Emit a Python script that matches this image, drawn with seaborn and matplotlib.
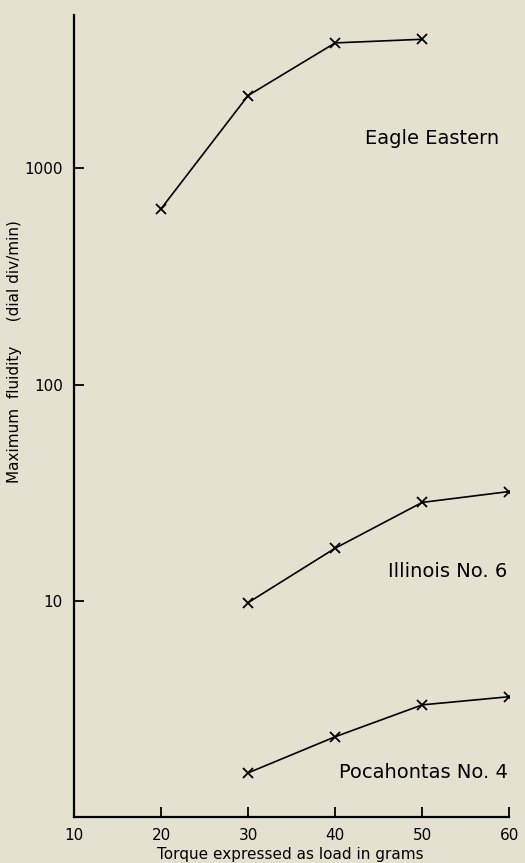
import pandas as pd
import seaborn as sb
import matplotlib.pyplot as plt

# values
coals = ['Eagle Eastern', 'Illinois No. 6', 'Pocahontas No. 4']
eagle_x = [20, 30, 40, 50]
eagle_y = [650, 2170, 3800, 3950]
illinois_x = [30, 40, 50, 60]
illinois_y = [9.8, 17.5, 28.5, 32]
pocahontas_x = [30, 40, 50, 60]
pocahontas_y = [1.6, 2.35, 3.3, 3.6]

x_ticks = [10, 20, 30, 40, 50, 60]
y_ticks = [10, 100, 1000]
y_tick_labels = ['10', '100', '1000']

frames = []
for name, xs, ys in zip(coals, [eagle_x, illinois_x, pocahontas_x],
                        [eagle_y, illinois_y, pocahontas_y]):
    frames.append(pd.DataFrame({'load': xs, 'fluidity': ys, 'coal': name}))
df = pd.concat(frames, ignore_index=True)

bg = '#e4e1d1'
sb.set_style('ticks')
plt.rcParams['font.family'] = ['DejaVu Sans']

fig = plt.figure(figsize=(5.25, 8.63), dpi=100, facecolor=bg)
ax = fig.add_axes([0.141, 0.0533, 0.829, 0.929])
ax.set_facecolor(bg)

sb.lineplot(data=df, x='load', y='fluidity', hue='coal',
            palette=['black'] * 3, marker='x', markersize=7,
            markeredgecolor='black', markeredgewidth=1.3,
            linewidth=1.2, legend=False, ax=ax)

ax.set_yscale('log')
ax.set_xlim(10, 60)
ax.set_ylim(1, 5100)
ax.set_xticks(x_ticks)
ax.set_yticks(y_ticks)
ax.set_yticklabels(y_tick_labels)
ax.minorticks_off()
ax.tick_params(direction='in', length=7, width=1.3, labelsize=11,
               colors='black', pad=8)

sb.despine(ax=ax)
for s in ['left', 'bottom']:
    ax.spines[s].set_linewidth(1.6)
    ax.spines[s].set_color('black')

# curve labels
ax.text(58.8, 1375, 'Eagle Eastern', ha='right', va='center',
        fontsize=14, color='black')
ax.text(59.8, 13.6, 'Illinois No. 6', ha='right', va='center',
        fontsize=14, color='black')
ax.text(59.8, 1.61, 'Pocahontas No. 4', ha='right', va='center',
        fontsize=14, color='black')

ax.set_xlabel('Torque expressed as load in grams', fontsize=11, color='black')
ax.xaxis.set_label_coords(0.497, -0.037)
ax.set_ylabel('Maximum  fluidity     (dial div/min)', fontsize=11, color='black')
ax.yaxis.set_label_coords(-0.12, 0.58)

fig.savefig('out.png', dpi=100, facecolor=bg)
